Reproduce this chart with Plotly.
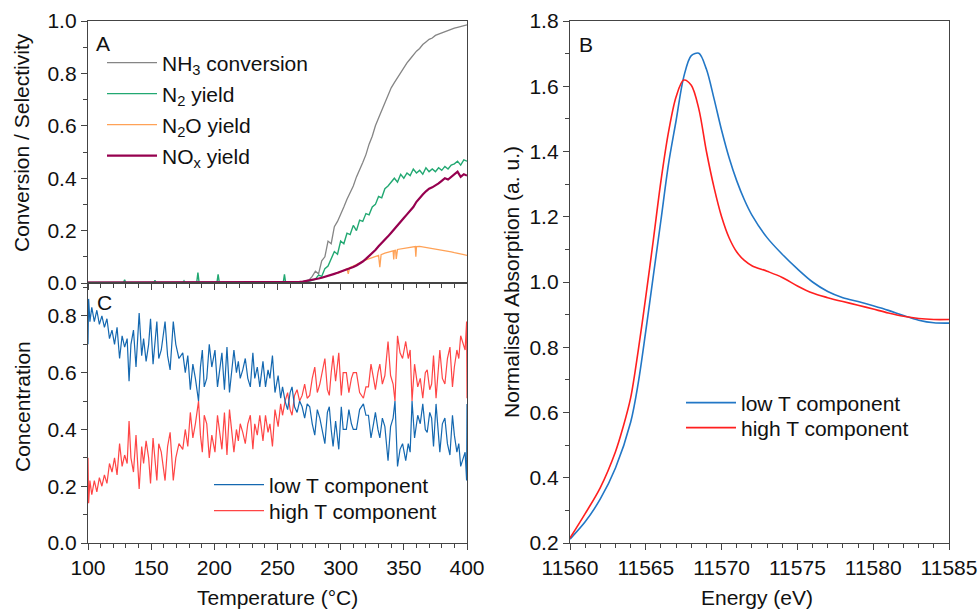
import plotly.graph_objects as go

# ---------------- Panel A data ----------------
temp_rise = [265, 267.5, 270, 272.5, 275, 277.5, 280, 282.5, 285, 287.5, 290, 292.5, 295, 297.5,
             300, 302.5, 305, 307.5, 310, 312.5, 315, 317.5, 320, 322.5, 325, 327.5, 330, 332.5,
             335, 337.5, 340, 342.5, 345, 347.5, 350, 352.5, 355, 357.5, 360, 362.5, 365, 367.5,
             370, 372.5, 375, 377.5, 380, 382.5, 385, 387.5, 390, 392.5, 395, 397.5, 400]

temp_nh3 = [100, 262.5] + temp_rise
nh3_conv = [0.003, 0.003,
            0.002, 0.003, 0.004, 0.008, 0.012, 0.025, 0.045, 0.035, 0.085, 0.10, 0.16, 0.15, 0.215, 0.235,
            0.26, 0.29, 0.32, 0.345, 0.37, 0.405, 0.43, 0.46, 0.49, 0.53, 0.56, 0.60, 0.63, 0.66,
            0.69, 0.715, 0.745, 0.765, 0.785, 0.80, 0.82, 0.84, 0.855, 0.87, 0.885, 0.895, 0.91, 0.92,
            0.93, 0.935, 0.945, 0.95, 0.955, 0.96, 0.965, 0.97, 0.973, 0.976, 0.979, 0.982, 0.985]

temp_n2 = [100, 128, 129, 130, 152, 153, 154, 175, 176, 177, 186, 187, 188, 202, 203, 204,
           254.5, 255.5, 256.5, 262.5] + temp_rise
n2_yield = [0, 0, 0.012, 0, 0, 0.01, 0, 0, 0.008, 0, 0, 0.04, 0, 0, 0.033, 0,
            0, 0.033, 0, 0,
            0.003, 0.002, 0.003, 0.004, 0.006, 0.010, 0.015, 0.030, 0.025, 0.055, 0.065, 0.09, 0.12, 0.11,
            0.16, 0.15, 0.19, 0.185, 0.22, 0.20, 0.24, 0.235, 0.265, 0.26, 0.29, 0.30, 0.33, 0.325,
            0.36, 0.37, 0.385, 0.40, 0.385, 0.415, 0.40, 0.42, 0.41, 0.435, 0.42, 0.43, 0.415, 0.44,
            0.425, 0.435, 0.425, 0.44, 0.43, 0.445, 0.435, 0.45, 0.455, 0.465, 0.45, 0.47, 0.465]

temp_n2o = [297.5, 300, 302.5, 305, 306, 307, 310, 312.5, 315, 317.5, 320, 322.5, 325, 327.5,
            330, 331, 332, 335, 337.5, 340, 341.5, 342, 342.5, 343.5, 344, 345, 347.5, 350,
            352.5, 355, 357.5, 359, 359.5, 360, 362.5, 365, 367.5, 370, 372.5, 375, 377.5,
            380, 382.5, 385, 387.5, 390, 392.5, 395, 397.5, 400]
n2o_yield = [0.036, 0.043, 0.048, 0.055, 0.035, 0.058, 0.065, 0.072, 0.078, 0.083, 0.088, 0.093, 0.097, 0.10,
             0.105, 0.06, 0.108, 0.114, 0.118, 0.122, 0.123, 0.09, 0.124, 0.125, 0.092, 0.128, 0.130, 0.133,
             0.135, 0.137, 0.138, 0.139, 0.10, 0.139, 0.140, 0.138, 0.137, 0.135, 0.133, 0.130, 0.128,
             0.126, 0.124, 0.121, 0.119, 0.116, 0.114, 0.111, 0.108, 0.105]

temp_nox = [100, 262.5] + temp_rise
nox_yield = [0.002, 0.002,
             0.003, 0.004, 0.005, 0.007, 0.009, 0.011, 0.014, 0.017, 0.020, 0.023, 0.027, 0.031, 0.035, 0.039,
             0.043, 0.047, 0.051, 0.056, 0.061, 0.067, 0.074, 0.082, 0.092, 0.103, 0.115, 0.126, 0.14, 0.152,
             0.165, 0.178, 0.192, 0.205, 0.22, 0.235, 0.248, 0.262, 0.275, 0.29, 0.31, 0.325, 0.338, 0.35,
             0.36, 0.365, 0.372, 0.38, 0.39, 0.40, 0.395, 0.405, 0.415, 0.425, 0.405, 0.415, 0.41]

# ---------------- Panel C data ----------------
temp_c = [100, 100.5, 101.5, 103, 105, 107, 109, 111, 113, 115, 117, 119, 121, 123, 125, 127, 129, 131,
          132.5, 134, 136, 138, 140.5, 142.5, 144, 146, 148, 149.5, 151.5, 153, 154.5, 156, 158, 161,
          163, 165, 167.5, 169.5, 172, 175, 177, 179, 181, 183, 185, 187.5, 189, 190.5, 192, 194, 196,
          198, 200.5, 202.5, 204, 206, 208, 210, 212, 214, 215.5, 217.5, 219, 220.5, 222.5, 224.5,
          226.5, 228.5, 230.5, 232, 234, 236, 238.5, 240.5, 242.5, 244, 246, 248, 250.5, 252.5, 254,
          256, 258, 260, 261.5, 263.5, 265.5, 267.5, 269.5, 271.5, 273.5, 275.5, 277.5, 279.5, 281.5,
          283.5, 285.5, 287.5, 289.5, 291, 292.5, 294, 296, 298.5, 300.5, 302, 304.5, 306.5, 308.5,
          310, 312.5, 315, 318, 320, 322, 324, 326, 327.5, 329.5, 331, 333, 335, 337.5, 339.5, 341.5,
          343, 345, 347, 349, 351.5, 353.5, 355, 356.5, 358.5, 361, 363, 365, 367, 368.5, 370.5, 372,
          373.5, 375.5, 377, 378.5, 380.5, 382.5, 384.5, 386.5, 388.5, 390, 392, 393.5, 395, 397,
          398.5, 399.7, 400]
low_t = [0.70, 0.86, 0.78, 0.83, 0.78, 0.82, 0.77, 0.80, 0.76, 0.79, 0.72, 0.75, 0.70, 0.76, 0.65, 0.73, 0.69, 0.72,
         0.57, 0.70, 0.75, 0.62, 0.81, 0.66, 0.72, 0.64, 0.70, 0.79, 0.63, 0.72, 0.78, 0.65, 0.68, 0.78,
         0.66, 0.61, 0.78, 0.70, 0.65, 0.67, 0.60, 0.66, 0.54, 0.63, 0.58, 0.50, 0.62, 0.68, 0.55, 0.58, 0.70,
         0.62, 0.68, 0.55, 0.60, 0.67, 0.54, 0.69, 0.53, 0.62, 0.68, 0.60, 0.64, 0.58, 0.61, 0.65,
         0.58, 0.55, 0.67, 0.58, 0.62, 0.55, 0.64, 0.55, 0.61, 0.58, 0.66, 0.53, 0.59, 0.51, 0.55,
         0.50, 0.47, 0.53, 0.55, 0.48, 0.46, 0.50, 0.48, 0.44, 0.49, 0.48, 0.42, 0.38, 0.47,
         0.44, 0.39, 0.35, 0.46, 0.48, 0.40, 0.34, 0.43, 0.33, 0.48, 0.40, 0.40, 0.47, 0.42,
         0.40, 0.40, 0.47, 0.49, 0.45, 0.45, 0.37, 0.42, 0.46, 0.40, 0.37, 0.44, 0.41, 0.29, 0.41, 0.44,
         0.50, 0.27, 0.33, 0.35, 0.29, 0.35, 0.32, 0.50, 0.37, 0.45, 0.42, 0.49, 0.40, 0.39, 0.46, 0.44,
         0.34, 0.49, 0.40, 0.32, 0.42, 0.44, 0.35, 0.31, 0.45, 0.38, 0.32, 0.35, 0.27, 0.30,
         0.32, 0.22, 0.49]
high_t = [0.30, 0.14, 0.22, 0.17, 0.22, 0.18, 0.23, 0.20, 0.24, 0.21, 0.28, 0.25, 0.30, 0.24, 0.35, 0.27, 0.31, 0.28,
          0.43, 0.30, 0.25, 0.38, 0.19, 0.34, 0.28, 0.36, 0.30, 0.21, 0.37, 0.28, 0.22, 0.35, 0.32, 0.22,
          0.34, 0.39, 0.22, 0.30, 0.35, 0.33, 0.40, 0.34, 0.46, 0.37, 0.42, 0.50, 0.38, 0.32, 0.45, 0.42, 0.30,
          0.38, 0.32, 0.45, 0.40, 0.33, 0.46, 0.31, 0.47, 0.38, 0.32, 0.40, 0.36, 0.42, 0.39, 0.35,
          0.42, 0.45, 0.33, 0.42, 0.38, 0.45, 0.36, 0.45, 0.39, 0.42, 0.34, 0.47, 0.41, 0.49, 0.45,
          0.50, 0.53, 0.47, 0.45, 0.52, 0.54, 0.50, 0.52, 0.56, 0.51, 0.52, 0.58, 0.62, 0.53,
          0.56, 0.61, 0.65, 0.54, 0.52, 0.60, 0.66, 0.57, 0.67, 0.52, 0.60, 0.60, 0.53, 0.58,
          0.60, 0.60, 0.53, 0.51, 0.55, 0.55, 0.63, 0.58, 0.54, 0.60, 0.63, 0.56, 0.59, 0.71, 0.59, 0.56,
          0.50, 0.73, 0.67, 0.65, 0.71, 0.65, 0.68, 0.50, 0.63, 0.55, 0.58, 0.51, 0.60, 0.61, 0.54, 0.56,
          0.66, 0.51, 0.60, 0.68, 0.58, 0.56, 0.65, 0.69, 0.55, 0.62, 0.68, 0.65, 0.73, 0.70,
          0.68, 0.78, 0.51]

# ---------------- Panel B data ----------------
energy_low = [11560, 11561, 11562, 11563, 11564, 11564.5, 11565, 11565.5, 11566, 11566.5, 11567,
              11567.5, 11568, 11568.5, 11569, 11569.5, 11570, 11570.5, 11571, 11571.5,
              11572, 11573, 11574, 11575, 11576, 11577, 11578, 11579, 11580, 11581, 11582, 11583,
              11584, 11585]
abs_low_t = [0.212, 0.265, 0.335, 0.43, 0.57, 0.69, 0.85, 1.02, 1.19, 1.362, 1.495,
             1.628, 1.694, 1.701, 1.652, 1.562, 1.465, 1.38, 1.31, 1.252,
             1.205, 1.136, 1.085, 1.04, 1.0, 0.971, 0.952, 0.94, 0.927, 0.913, 0.897, 0.883,
             0.875, 0.874]
energy_high = [11560, 11561, 11562, 11563, 11563.5, 11564, 11564.5, 11565, 11565.5, 11566, 11566.5,
               11567, 11567.5, 11568, 11568.5, 11569, 11569.5, 11570, 11570.5,
               11571, 11571.5, 11572, 11573, 11574, 11575, 11576, 11577, 11578, 11579, 11580,
               11581, 11582, 11583, 11584, 11585]
abs_high_t = [0.215, 0.29, 0.37, 0.48, 0.555, 0.645, 0.79, 0.955, 1.13, 1.31, 1.46,
              1.568, 1.619, 1.603, 1.53, 1.40, 1.29, 1.20, 1.135,
              1.092, 1.066, 1.05, 1.033, 1.014, 0.988, 0.966, 0.952, 0.94, 0.929, 0.917,
              0.905, 0.895, 0.888, 0.885, 0.885]

FONT = "Liberation Sans, Arial, sans-serif"
INK = "#111111"
TICK_SIZE = 21
TXT_SIZE = 21

fig = go.Figure()

# Panel A traces (one legend per entry so each entry can be placed as in the original)
fig.add_trace(go.Scatter(x=temp_nh3, y=nh3_conv, mode="lines", name="NH<sub>3</sub> conversion",
                         line=dict(color="#858585", width=1.3), xaxis="x", yaxis="y", legend="legend"))
fig.add_trace(go.Scatter(x=temp_n2, y=n2_yield, mode="lines", name="N<sub>2</sub> yield",
                         line=dict(color="#22a872", width=1.4), xaxis="x", yaxis="y", legend="legend2"))
fig.add_trace(go.Scatter(x=temp_n2o, y=n2o_yield, mode="lines", name="N<sub>2</sub>O yield",
                         line=dict(color="#ffa257", width=1.3), xaxis="x", yaxis="y", legend="legend3"))
fig.add_trace(go.Scatter(x=temp_nox, y=nox_yield, mode="lines", name="NO<sub>x</sub> yield",
                         line=dict(color="#96004f", width=2.2), xaxis="x", yaxis="y", legend="legend4"))

# Panel C traces
fig.add_trace(go.Scatter(x=temp_c, y=high_t, mode="lines", name="high T component",
                         line=dict(color="#ff4545", width=1.2), xaxis="x2", yaxis="y2", legend="legend6"))
fig.add_trace(go.Scatter(x=temp_c, y=low_t, mode="lines", name="low T component",
                         line=dict(color="#1468b0", width=1.2), xaxis="x2", yaxis="y2", legend="legend5"))

# Panel B traces
fig.add_trace(go.Scatter(x=energy_low, y=abs_low_t, mode="lines", name="low T component",
                         line=dict(color="#2277c6", width=1.6, shape="spline", smoothing=0.9),
                         xaxis="x3", yaxis="y3", legend="legend7"))
fig.add_trace(go.Scatter(x=energy_high, y=abs_high_t, mode="lines", name="high T component",
                         line=dict(color="#ff1f1f", width=1.6, shape="spline", smoothing=0.9),
                         xaxis="x3", yaxis="y3", legend="legend8"))

W, H = 979, 610
def px_x(p):
    return p / W
def px_y(p):
    return 1 - p / H

axis_common = dict(showline=True, linecolor="#444444", linewidth=1.3, mirror=True,
                   ticks="outside", ticklen=6, tickwidth=1.2, tickcolor="#444444",
                   showgrid=False, zeroline=False, automargin=False,
                   tickfont=dict(family=FONT, size=TICK_SIZE, color=INK))
minor_col = dict(ticks="outside", ticklen=3.5, tickwidth=1.1, tickcolor="#444444", showgrid=False)

xa_dom = [px_x(88), px_x(467)]
xb_dom = [px_x(570), px_x(949)]

def leg(xp, yp):
    return dict(x=px_x(xp), y=px_y(yp), xanchor="left", yanchor="middle",
                bgcolor="rgba(0,0,0,0)", borderwidth=0, itemwidth=50,
                font=dict(family=FONT, size=TXT_SIZE, color=INK))

fig.update_layout(
    width=W, height=H,
    margin=dict(l=0, r=0, t=0, b=0, autoexpand=False),
    paper_bgcolor="white", plot_bgcolor="white",
    font=dict(family=FONT, size=TXT_SIZE, color=INK),
    xaxis=dict(axis_common, domain=xa_dom, anchor="y", range=[100, 400], dtick=50,
               showticklabels=False, minor=dict(minor_col, dtick=10)),
    yaxis=dict(axis_common, domain=[px_y(283), px_y(21)], anchor="x", range=[0, 1.0],
               dtick=0.2, tickformat=".1f", minor=dict(minor_col, dtick=0.1)),
    xaxis2=dict(axis_common, domain=xa_dom, anchor="y2", range=[100, 400], dtick=50,
                minor=dict(minor_col, dtick=10)),
    yaxis2=dict(axis_common, domain=[px_y(543), px_y(283)], anchor="x2", range=[0, 0.916],
                tickvals=[0, 0.2, 0.4, 0.6, 0.8], tickformat=".1f",
                minor=dict(minor_col, tickvals=[0.1, 0.3, 0.5, 0.7, 0.9])),
    xaxis3=dict(axis_common, domain=xb_dom, anchor="y3", range=[11560, 11585], dtick=5,
                tickformat="d", minor=dict(minor_col, dtick=1)),
    yaxis3=dict(axis_common, domain=[px_y(543), px_y(21)], anchor="x3", range=[0.2, 1.8],
                dtick=0.2, tickformat=".1f", minor=dict(minor_col, dtick=0.1)),
    legend=leg(102, 63),
    legend2=leg(102, 94),
    legend3=leg(102, 125),
    legend4=leg(102, 156),
    legend5=leg(209, 485),
    legend6=leg(209, 511),
    legend7=leg(681, 403),
    legend8=leg(681, 428),
    showlegend=True,
)

ann = [
    dict(text="A", x=px_x(103), y=px_y(43), xanchor="center", yanchor="middle", font=dict(size=21)),
    dict(text="C", x=px_x(104), y=px_y(302), xanchor="center", yanchor="middle", font=dict(size=21)),
    dict(text="B", x=px_x(586), y=px_y(45), xanchor="center", yanchor="middle", font=dict(size=21)),
    dict(text="Conversion / Selectivity", x=px_x(22), y=px_y(143), textangle=-90,
         xanchor="center", yanchor="middle", font=dict(size=TXT_SIZE)),
    dict(text="Concentration", x=px_x(22), y=px_y(407), textangle=-90,
         xanchor="center", yanchor="middle", font=dict(size=TXT_SIZE)),
    dict(text="Temperature (°C)", x=px_x(277), y=px_y(597), xanchor="center", yanchor="middle",
         font=dict(size=TXT_SIZE)),
    dict(text="Energy (eV)", x=px_x(757), y=px_y(597), xanchor="center", yanchor="middle",
         font=dict(size=TXT_SIZE)),
    dict(text="Normalised Absorption (a. u.)", x=px_x(511), y=px_y(282), textangle=-90,
         xanchor="center", yanchor="middle", font=dict(size=TXT_SIZE)),
]
for a in ann:
    a.update(xref="paper", yref="paper", showarrow=False)
    a["font"] = dict(family=FONT, color=INK, **a["font"])
fig.update_layout(annotations=ann)

fig.write_html("out.html", config={"displayModeBar": False},
               post_script="document.body.style.margin='0px';"
                           "document.documentElement.style.overflow='hidden';")
